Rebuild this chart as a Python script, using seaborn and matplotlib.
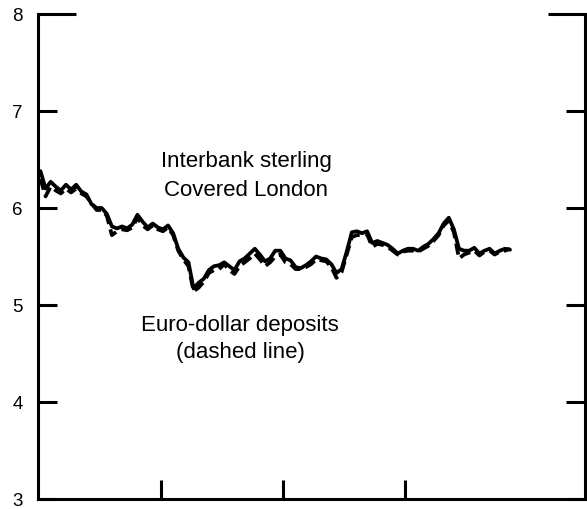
import numpy as np
import pandas as pd
import matplotlib
matplotlib.use("Agg")
import matplotlib.pyplot as plt
import seaborn as sns

# interbank sterling, covered London (solid), semi-monthly
sterling = [
    6.38, 6.20, 6.27, 6.22, 6.18, 6.24, 6.19, 6.24, 6.17, 6.14,
    6.04, 6.00, 6.00, 5.94, 5.81, 5.79, 5.81, 5.79, 5.83, 5.93,
    5.86, 5.80, 5.84, 5.80, 5.78, 5.82, 5.74, 5.58, 5.49, 5.44,
    5.17, 5.23, 5.27, 5.36, 5.40, 5.41, 5.44, 5.40, 5.36, 5.45,
    5.48, 5.53, 5.58, 5.52, 5.45, 5.48, 5.56, 5.56, 5.48, 5.46,
    5.39, 5.38, 5.41, 5.45, 5.50, 5.48, 5.47, 5.42, 5.33, 5.37,
    5.55, 5.75, 5.76, 5.74, 5.76, 5.64, 5.66, 5.64, 5.62, 5.58,
    5.53, 5.56, 5.58, 5.58, 5.56, 5.60, 5.63, 5.68, 5.74, 5.84,
    5.90, 5.78, 5.58, 5.56, 5.56, 5.59, 5.53, 5.56, 5.58, 5.53,
    5.56, 5.58, 5.57,
]

# euro-dollar deposits (dashed)
eurodollar = [
    6.30, 6.12, 6.22, 6.18, 6.15, 6.20, 6.16, 6.20, 6.15, 6.12,
    6.05, 5.98, 5.98, 5.92, 5.72, 5.76, 5.78, 5.77, 5.80, 5.90,
    5.82, 5.78, 5.82, 5.78, 5.76, 5.80, 5.72, 5.56, 5.47, 5.40,
    5.14, 5.18, 5.24, 5.33, 5.36, 5.37, 5.42, 5.36, 5.32, 5.40,
    5.44, 5.48, 5.53, 5.47, 5.40, 5.44, 5.50, 5.52, 5.44, 5.42,
    5.37, 5.37, 5.39, 5.42, 5.47, 5.46, 5.45, 5.39, 5.28, 5.34,
    5.52, 5.70, 5.72, 5.72, 5.73, 5.60, 5.63, 5.62, 5.60, 5.56,
    5.52, 5.55, 5.56, 5.56, 5.55, 5.58, 5.61, 5.66, 5.72, 5.82,
    5.87, 5.75, 5.48, 5.52, 5.54, 5.56, 5.51, 5.55, 5.56, 5.52,
    5.55, 5.56, 5.58,
]

y_ticks = [3, 4, 5, 6, 7]
x_ticks = [1, 2, 3]

n = len(sterling)
t = np.arange(n) / 24 + 0.02
df = pd.DataFrame({
    "t": np.concatenate([t, t]),
    "rate": sterling + eurodollar,
    "series": ["sterling"] * n + ["euro"] * n,
})

sns.set_style("white")
plt.rcParams["font.family"] = ["Liberation Sans", "DejaVu Sans"]
plt.rcParams["text.color"] = "black"
plt.rcParams["ytick.color"] = "black"
plt.rcParams["xtick.color"] = "black"

fig = plt.figure(figsize=(5.87, 5.10), dpi=100)
ax = fig.add_axes([38 / 587, 10 / 510, 547 / 587, 485 / 510])

sns.lineplot(data=df, x="t", y="rate", hue="series", style="series",
             palette={"sterling": "black", "euro": "black"},
             dashes={"sterling": "", "euro": (3, 1.5)},
             linewidth=2.7, legend=False, ax=ax)

ax.set_xlim(0, 547 / 122.5)
ax.set_ylim(3, 8)
ax.set_xticks(x_ticks)
ax.set_xticklabels([])
ax.set_yticks(y_ticks)
ax.set_yticks([8], minor=True)
ax.set_xlabel("")
ax.set_ylabel("")

for s in ["left", "right", "bottom"]:
    ax.spines[s].set_visible(True)
    ax.spines[s].set_linewidth(2.2)
    ax.spines[s].set_color("black")
ax.spines["top"].set_visible(False)

ax.tick_params(axis="both", which="major", direction="in", length=14,
               width=2.2, color="black")
ax.tick_params(axis="y", which="both", left=True, right=True,
               labelleft=True, labelright=False, labelsize=13.5, pad=11,
               labelcolor="black")
ax.tick_params(axis="y", which="minor", direction="in", length=27,
               width=2.2, color="black")
ax.tick_params(axis="x", which="major", bottom=True, top=False)

# label the 8 on the minor tick
ax.yaxis.set_minor_formatter(matplotlib.ticker.FixedFormatter(["8"]))

ax.text(1.70, 6.34, "Interbank sterling\nCovered London", ha="center",
        va="center", fontsize=16, linespacing=1.45, color="black")
ax.text(1.65, 4.66, "Euro-dollar deposits\n(dashed line)", ha="center",
        va="center", fontsize=16, linespacing=1.4, color="black")

fig.savefig("out.png", dpi=100)
